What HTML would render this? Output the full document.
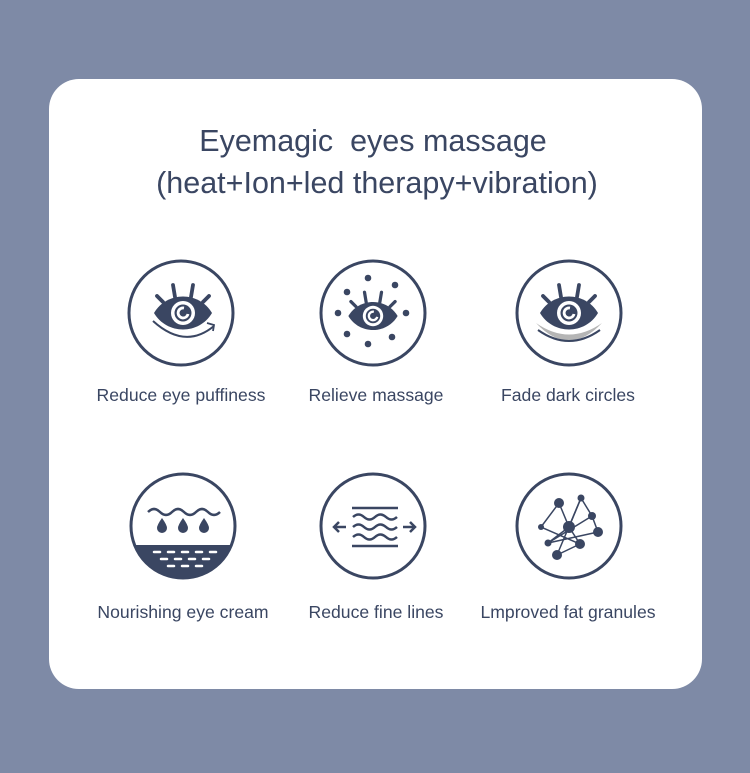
<!DOCTYPE html>
<html><head><meta charset="utf-8"><style>
html,body{margin:0;padding:0;}
body{width:750px;height:773px;background:#7e8aa6;position:relative;overflow:hidden;font-family:"Liberation Sans",Arial,sans-serif;}
.card{position:absolute;left:49px;top:79px;width:653px;height:610px;background:#fff;border-radius:30px;}
</style></head><body>
<div class="card"></div>
<svg width="750" height="773" style="position:absolute;left:0;top:0">
<defs>
<g id="eye">
<path d="M-29,0 C-16,-22 16,-22 29,0 C16,22 -16,22 -29,0 Z" fill="#3a4662"/>
<circle r="12" fill="#fff"/>
<circle r="8.5" fill="#3a4662"/>
<path d="M1,-5 A5,5 0 1 0 5,1" fill="none" stroke="#fff" stroke-width="2.8"/>
<g stroke="#3a4662" stroke-width="3.8" stroke-linecap="round">
<line x1="-20" y1="-11" x2="-26" y2="-17"/>
<line x1="-8" y1="-16" x2="-10" y2="-28"/>
<line x1="8" y1="-16" x2="10" y2="-28"/>
<line x1="20" y1="-11" x2="26" y2="-17"/>
</g>
</g>
</defs>
<g font-size="30.5" fill="#3a4662" text-anchor="middle">
<text x="373" y="151">Eyemagic&#160; eyes massage</text>
<text x="377" y="193">(heat+Ion+led therapy+vibration)</text>
</g>
<g fill="none" stroke="#3a4662" stroke-width="3">
<circle cx="181" cy="313" r="52"/>
<circle cx="373" cy="313" r="52"/>
<circle cx="569" cy="313" r="52"/>
<circle cx="183" cy="526" r="52"/>
<circle cx="373" cy="526" r="52"/>
<circle cx="569" cy="526" r="52"/>
</g>
<!-- icon 1 -->
<use href="#eye" x="183" y="313"/>
<path d="M153,321 Q185,350 214,326" fill="none" stroke="#3a4662" stroke-width="2"/>
<path d="M207,323 L214,325 L213,331" fill="none" stroke="#3a4662" stroke-width="1.8"/>
<!-- icon 2 -->
<g transform="translate(373,316) scale(0.85)"><use href="#eye"/></g>
<g fill="#3a4662">
<circle cx="368" cy="278" r="3.3"/><circle cx="395" cy="285" r="3.3"/><circle cx="347" cy="292" r="3.3"/>
<circle cx="338" cy="313" r="3.3"/><circle cx="406" cy="313" r="3.3"/><circle cx="347" cy="334" r="3.3"/>
<circle cx="392" cy="337" r="3.3"/><circle cx="368" cy="344" r="3.3"/>
</g>
<!-- icon 3 -->
<path d="M536,323 Q569,358 602,323 Q569,346 536,323 Z" fill="#b5b5b5"/>
<use href="#eye" x="569" y="313"/>
<path d="M538,330 Q569,352 600,330" fill="none" stroke="#3a4662" stroke-width="2"/>
<!-- icon 4 -->
<clipPath id="c4"><circle cx="183" cy="526" r="51"/></clipPath>
<rect x="130" y="545" width="110" height="40" fill="#3a4662" clip-path="url(#c4)"/>
<path d="M148,512 q6,-6 12,0 t12,0 t12,0 t12,0 t12,0 t12,0" fill="none" stroke="#3a4662" stroke-width="2.5"/>
<g fill="#3a4662">
<path d="M162,518 q-5,7 -5,10 a5,5 0 0 0 10,0 q0,-3 -5,-10z"/>
<path d="M183,518 q-5,7 -5,10 a5,5 0 0 0 10,0 q0,-3 -5,-10z"/>
<path d="M204,518 q-5,7 -5,10 a5,5 0 0 0 10,0 q0,-3 -5,-10z"/>
</g>
<g stroke="#fff" stroke-width="2.5" stroke-linecap="round">
<line x1="154" y1="552" x2="160" y2="552"/><line x1="168" y1="552" x2="174" y2="552"/><line x1="182" y1="552" x2="188" y2="552"/><line x1="196" y1="552" x2="202" y2="552"/><line x1="210" y1="552" x2="216" y2="552"/>
<line x1="161" y1="559" x2="167" y2="559"/><line x1="175" y1="559" x2="181" y2="559"/><line x1="189" y1="559" x2="195" y2="559"/><line x1="203" y1="559" x2="209" y2="559"/>
<line x1="168" y1="566" x2="174" y2="566"/><line x1="182" y1="566" x2="188" y2="566"/><line x1="196" y1="566" x2="202" y2="566"/>
</g>
<!-- icon 5 -->
<g fill="none" stroke="#3a4662" stroke-width="2.5">
<line x1="352" y1="508" x2="398" y2="508"/>
<line x1="352" y1="546" x2="398" y2="546"/>
<path d="M353,517 q5.5,-5 11,0 t11,0 t11,0 t11,0"/>
<path d="M353,527 q5.5,-5 11,0 t11,0 t11,0 t11,0"/>
<path d="M353,537 q5.5,-5 11,0 t11,0 t11,0 t11,0"/>
<line x1="334" y1="527" x2="346" y2="527"/><path d="M339,522 L334,527 L339,532"/>
<line x1="403" y1="527" x2="415" y2="527"/><path d="M410,522 L415,527 L410,532"/>
</g>
<!-- icon 6 -->
<g stroke="#3a4662" stroke-width="1.5" fill="none">
<polyline points="541,527 559,503 569,527 581,498 592,516 598,532"/>
<line x1="541" y1="527" x2="580" y2="544"/>
<line x1="548" y1="543" x2="592" y2="516"/>
<line x1="548" y1="543" x2="598" y2="532"/>
<line x1="557" y1="555" x2="581" y2="498"/>
<line x1="557" y1="555" x2="580" y2="544"/>
<line x1="569" y1="527" x2="580" y2="544"/>
<line x1="569" y1="527" x2="548" y2="543"/>
</g>
<g fill="#3a4662">
<circle cx="559" cy="503" r="5"/><circle cx="581" cy="498" r="3.5"/><circle cx="592" cy="516" r="4"/>
<circle cx="569" cy="527" r="6"/><circle cx="598" cy="532" r="5"/><circle cx="541" cy="527" r="3"/>
<circle cx="548" cy="543" r="3.5"/><circle cx="580" cy="544" r="5"/><circle cx="557" cy="555" r="5"/>
</g>
<g font-size="17.6" fill="#3a4662" text-anchor="middle">
<text x="181" y="401">Reduce eye puffiness</text>
<text x="376" y="401">Relieve massage</text>
<text x="568" y="401">Fade dark circles</text>
<text x="183" y="618">Nourishing eye cream</text>
<text x="376" y="618">Reduce fine lines</text>
<text x="568" y="618">Lmproved fat granules</text>
</g>
</svg>
</body></html>
